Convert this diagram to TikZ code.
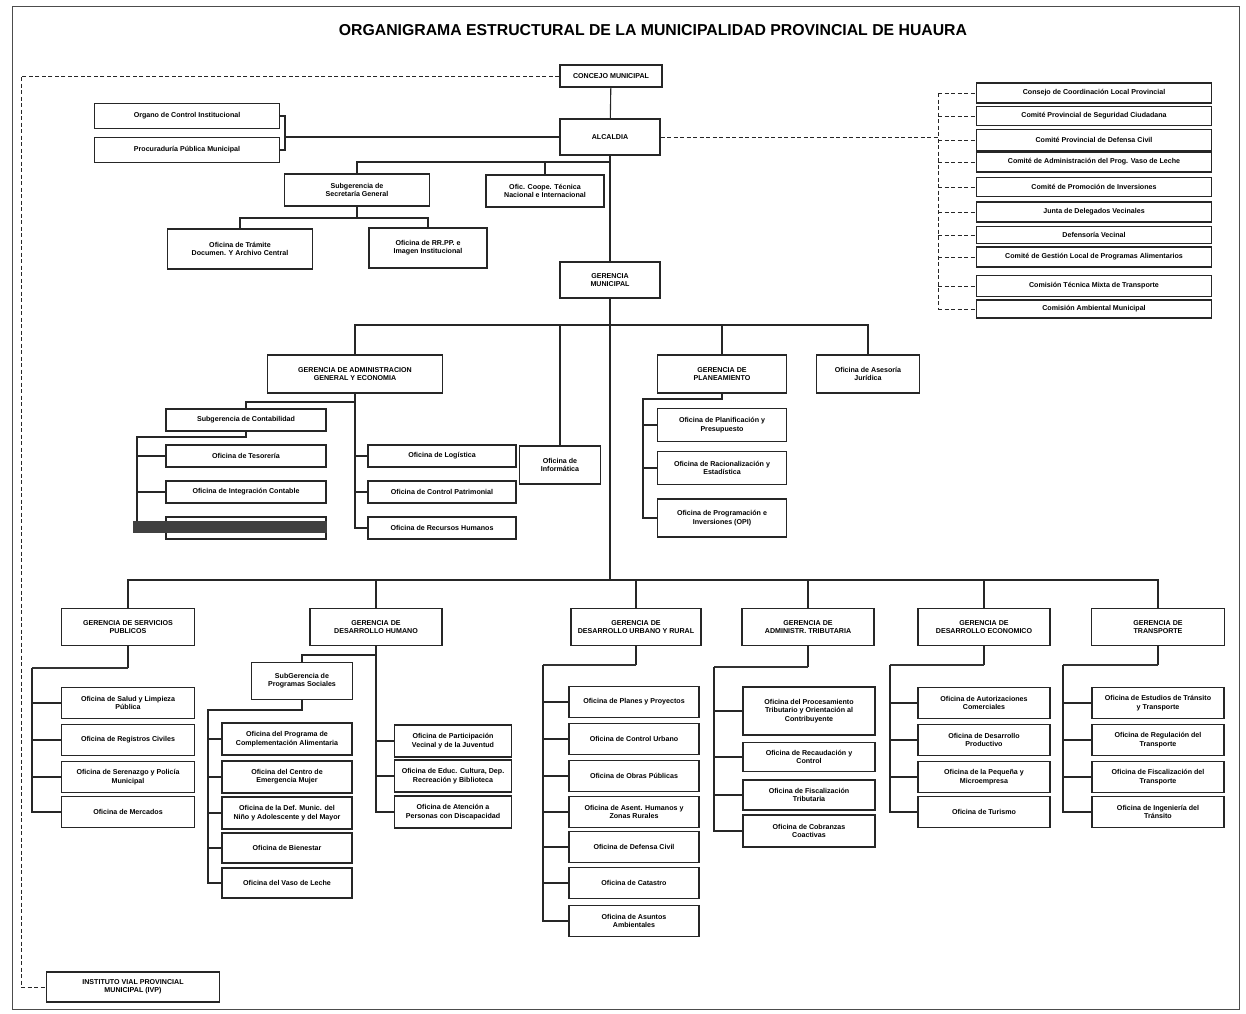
\documentclass[tikz,border=0pt]{standalone}
\usepackage{fontspec}
\setmainfont{Liberation Sans}
\begin{document}
\begin{tikzpicture}[x=1pt,y=-1pt,
	caja/.style 2 args={draw=black!85, fill=white, line width=1.1pt, align=center,
		inner sep=1pt, minimum width=#1pt, minimum height=#2pt,
		font=\fontsize{7.1}{8.3}\selectfont\bfseries},
	linea/.style={line width=1.1pt, black!85},
	gruesa/.style={line width=2.8pt, black!80},
	punteada/.style={line width=1pt, dash pattern=on 4pt off 2.5pt, black!85},
	titulo/.style={font=\fontsize{15.8}{18}\selectfont\bfseries},
	marco/.style={line width=1pt, black!70},
	]
	\useasboundingbox (0,0) rectangle (1246,1013);
	\draw[marco] (12,6) rectangle (1239,1009);
	\node[titulo] (tit) at (653,30) {ORGANIGRAMA ESTRUCTURAL DE LA MUNICIPALIDAD PROVINCIAL DE HUAURA};
	
	%% ── alta direccion ─────────────────────────────────────
	\node[caja={102}{22}] (concejo) at (611,76) {CONCEJO MUNICIPAL};
	\node[caja={100}{36}] (alcaldia) at (610,137) {ALCALDIA};
	\node[caja={185}{25}] (oci) at (187,116) {Organo de Control Institucional};
	\node[caja={185}{25}] (ppm) at (187,150) {Procuraduría Pública Municipal};
	\node[caja={145}{32}] (sgen) at (357,190) {Subgerencia de\\Secretaría General};
	\node[caja={118}{32}] (coope) at (545,191) {Ofic. Coope. Técnica\\Nacional e Internacional};
	\node[caja={145}{40}] (tram) at (240,249) {Oficina de Trámite\\Documen. Y Archivo Central};
	\node[caja={118}{40}] (rrpp) at (428,248) {Oficina de RR.PP. e\\Imagen Institucional};
	\node[caja={100}{36}] (gm) at (610,280) {GERENCIA\\MUNICIPAL};
	\node[caja={173}{30}] (ivp) at (133,987) {INSTITUTO VIAL PROVINCIAL\\MUNICIPAL (IVP)};
	\coordinate (bal) at (285,137);
	\coordinate (h1) at (610,162);
	\coordinate (h2) at (357,218);
	\coordinate (dl) at (21,80);
	\draw[linea] (concejo) -- (alcaldia);
	\draw[linea] (alcaldia.west) -- (bal);
	\draw[linea] (oci.east) -| (bal) |- (ppm.east);
	\draw[linea] (alcaldia.south) -- (gm.north);
	\draw[linea] (sgen.north) |- (h1);
	\draw[linea] (coope.north) -- (coope.north |- h1);
	\draw[linea] (sgen.south) -- (h2);
	\draw[linea] (tram.north) |- (h2) -| (rrpp.north);
	\draw[punteada] (concejo.west) -| (dl |- ivp.west) -- (ivp.west);
	
	%% ── comites ────────────────────────────────────────────
	\foreach \t/\y/\h [count=\i] in {
		{Consejo de Coordinación Local Provincial}/93/20,
		{Comité Provincial de Seguridad Ciudadana}/116/19,
		{Comité Provincial de Defensa Civil}/140/21,
		{Comité de Administración del Prog. Vaso de Leche}/162/20,
		{Comité de Promoción de Inversiones}/187/19,
		{Junta de Delegados Vecinales}/212/20,
		{Defensoría Vecinal}/235/17,
		{Comité de Gestión Local de Programas Alimentarios}/257/20,
		{Comisión Técnica Mixta de Transporte}/286/21,
		{Comisión Ambiental Municipal}/309/18}
	\node[caja={235}{\h}] (com\i) at (1094,\y) {\t};
	\coordinate (dc) at (938,137);
	\draw[punteada] (alcaldia.east) -- (dc);
	\draw[punteada] (dc |- com1.west) -- (dc |- com10.west);
	\foreach \i in {1,...,10} \draw[punteada] (dc |- com\i.west) -- (com\i.west);
	
	%% ── gerencias de apoyo ─────────────────────────────────
	\node[caja={175}{38}] (gadm) at (355,374) {GERENCIA DE ADMINISTRACION\\GENERAL Y ECONOMIA};
	\node[caja={81}{38}] (info) at (560,465) {Oficina de\\Informática};
	\node[caja={129}{38}] (gpla) at (722,374) {GERENCIA DE\\PLANEAMIENTO};
	\node[caja={103}{38}] (ases) at (868,374) {Oficina de Asesoría\\Jurídica};
	\coordinate (h3) at (610,325);
	\draw[linea] (gadm.north) |- (h3) -| (ases.north);
	\draw[linea] (info.north) -- (info.north |- h3);
	\draw[linea] (gpla.north) -- (gpla.north |- h3);
	
	\node[caja={160}{22}] (cont) at (246,420) {Subgerencia de Contabilidad};
	\foreach \t/\y [count=\i] in {{Oficina de Tesorería}/456,{Oficina de Integración Contable}/492,{}/528}
	\node[caja={160}{22}] (ca\i) at (246,\y) {\t};
	\foreach \t/\y [count=\i] in {{Oficina de Logística}/456,{Oficina de Control Patrimonial}/492,{Oficina de Recursos Humanos}/528}
	\node[caja={148}{22}] (ad\i) at (442,\y) {\t};
	\coordinate (ha) at (355,402);
	\coordinate (hb) at (137,437);
	\draw[linea] (gadm.south) -- (gadm.south |- ad3.west) -- (ad3.west);
	\foreach \i in {1,2} \draw[linea] (gadm.south |- ad\i.west) -- (ad\i.west);
	\draw[linea] (ha) -| (cont.north);
	\draw[linea] (cont.south) |- (hb) -- (hb |- ca3.west) -- (ca3.west);
	\foreach \i in {1,2} \draw[linea] (hb |- ca\i.west) -- (ca\i.west);
	\fill[black!75] (133,521) rectangle (327,533);
	
	\foreach \t/\y/\h [count=\i] in {
		{Oficina de Planificación y\\Presupuesto}/425/33,
		{Oficina de Racionalización y\\Estadística}/468/33,
		{Oficina de Programación e\\Inversiones (OPI)}/518/38}
	\node[caja={129}{\h}] (pl\i) at (722,\y) {\t};
	\coordinate (hp) at (643,399);
	\draw[linea] (gpla.south) |- (hp) -- (hp |- pl3.west) -- (pl3.west);
	\foreach \i in {1,2} \draw[linea] (hp |- pl\i.west) -- (pl\i.west);
	
	%% ── gerencias de linea ─────────────────────────────────
	\node[caja={133}{37}] (gsp) at (128,627) {GERENCIA DE SERVICIOS\\PUBLICOS};
	\node[caja={132}{37}] (gdh) at (376,627) {GERENCIA DE\\DESARROLLO HUMANO};
	\node[caja={130}{37}] (gdu) at (636,627) {GERENCIA DE\\DESARROLLO URBANO Y RURAL};
	\node[caja={132}{37}] (gat) at (808,627) {GERENCIA DE\\ADMINISTR. TRIBUTARIA};
	\node[caja={132}{37}] (gde) at (984,627) {GERENCIA DE\\DESARROLLO ECONOMICO};
	\node[caja={133}{37}] (gtr) at (1158,627) {GERENCIA DE\\TRANSPORTE};
	\coordinate (h4) at (610,580);
	\draw[linea] (gm.south) -- (h4);
	\draw[linea] (gsp.north) |- (h4) -| (gtr.north);
	\foreach \g in {gdh,gdu,gat,gde} \draw[linea] (\g.north) -- (\g.north |- h4);
	
	%% servicios publicos
	\foreach \t/\y [count=\i] in {
		{Oficina de Salud y Limpieza\\Pública}/703,
		{Oficina de Registros Civiles}/740,
		{Oficina de Serenazgo y Policía\\Municipal}/777,
		{Oficina de Mercados}/812}
	\node[caja={133}{31}] (sp\i) at (128,\y) {\t};
	\coordinate (bsp) at (32,668);
	\draw[linea] (gsp.south) -- (gsp.south |- bsp);
	\draw[gruesa] (gsp.south |- bsp) -- (bsp);
	\draw[linea] (bsp) -- (bsp |- sp4.west) -- (sp4.west);
	\foreach \i in {1,2,3} \draw[linea] (bsp |- sp\i.west) -- (sp\i.west);
	
	%% desarrollo humano
	\node[caja={101}{37}] (sps) at (302,681) {SubGerencia de\\Programas Sociales};
	\foreach \t/\y [count=\i] in {
		{Oficina de Participación\\Vecinal y de la Juventud}/741,
		{Oficina de Educ. Cultura, Dep.\\Recreación y Biblioteca}/776,
		{Oficina de Atención a\\Personas con Discapacidad}/812}
	\node[caja={117}{32}] (dr\i) at (453,\y) {\t};
	\foreach \t/\y/\h [count=\i] in {
		{Oficina del Programa de\\Complementación Alimentaria}/739/32,
		{Oficina del Centro de\\Emergencia Mujer}/777/32,
		{Oficina de la Def. Munic. del\\Niño y Adolescente y del Mayor}/813/32,
		{Oficina de Bienestar}/848/30,
		{Oficina del Vaso de Leche}/883/30}
	\node[caja={130}{\h}] (dl\i) at (287,\y) {\t};
	\coordinate (hdh) at (376,655);
	\coordinate (bdl) at (208,710);
	\draw[linea] (gdh.south) -- (gdh.south |- dr3.west) -- (dr3.west);
	\foreach \i in {1,2} \draw[linea] (gdh.south |- dr\i.west) -- (dr\i.west);
	\draw[linea] (hdh) -| (sps.north);
	\draw[linea] (sps.south) |- (bdl) -- (bdl |- dl5.west) -- (dl5.west);
	\foreach \i in {1,...,4} \draw[linea] (bdl |- dl\i.west) -- (dl\i.west);
	
	%% desarrollo urbano y rural
	\foreach \t/\y [count=\i] in {
		{Oficina de Planes y Proyectos}/702,
		{Oficina de Control Urbano}/739,
		{Oficina de Obras Públicas}/776,
		{Oficina de Asent. Humanos y\\Zonas Rurales}/812,
		{Oficina de Defensa Civil}/847,
		{Oficina de Catastro}/883,
		{Oficina de Asuntos\\Ambientales}/921}
	\node[caja={130}{31}] (du\i) at (634,\y) {\t};
	\coordinate (bdu) at (543,665);
	\draw[linea] (gdu.south) -- (gdu.south |- bdu);
	\draw[gruesa] (gdu.south |- bdu) -- (bdu);
	\draw[linea] (bdu) -- (bdu |- du7.west) -- (du7.west);
	\foreach \i in {1,...,6} \draw[linea] (bdu |- du\i.west) -- (du\i.west);
	
	%% administracion tributaria
	\foreach \t/\y/\h [count=\i] in {
		{Oficina del Procesamiento\\Tributario y Orientación al\\Contribuyente}/711/48,
		{Oficina de Recaudación y\\Control}/757/29,
		{Oficina de Fiscalización\\Tributaria}/795/30,
		{Oficina de Cobranzas\\Coactivas}/831/32}
	\node[caja={132}{\h}] (at\i) at (809,\y) {\t};
	\coordinate (bat) at (714,667);
	\draw[linea] (gat.south) -- (gat.south |- bat);
	\draw[gruesa] (gat.south |- bat) -- (bat);
	\draw[linea] (bat) -- (bat |- at4.west) -- (at4.west);
	\foreach \i in {1,2,3} \draw[linea] (bat |- at\i.west) -- (at\i.west);
	
	%% desarrollo economico
	\foreach \t/\y [count=\i] in {
		{Oficina de Autorizaciones\\Comerciales}/703,
		{Oficina de Desarrollo\\Productivo}/740,
		{Oficina de la Pequeña y\\Microempresa}/777,
		{Oficina de Turismo}/812}
	\node[caja={132}{31}] (de\i) at (984,\y) {\t};
	\coordinate (bde) at (890,665);
	\draw[linea] (gde.south) -- (gde.south |- bde);
	\draw[gruesa] (gde.south |- bde) -- (bde);
	\draw[linea] (bde) -- (bde |- de4.west) -- (de4.west);
	\foreach \i in {1,2,3} \draw[linea] (bde |- de\i.west) -- (de\i.west);
	
	%% transporte
	\foreach \t/\y [count=\i] in {
		{Oficina de Estudios de Tránsito\\y Transporte}/703,
		{Oficina de Regulación del\\Transporte}/740,
		{Oficina de Fiscalización del\\Transporte}/777,
		{Oficina de Ingeniería del\\Tránsito}/812}
	\node[caja={132}{31}] (tr\i) at (1158,\y) {\t};
	\coordinate (btr) at (1063,665);
	\draw[linea] (gtr.south) -- (gtr.south |- btr);
	\draw[gruesa] (gtr.south |- btr) -- (btr);
	\draw[linea] (btr) -- (btr |- tr4.west) -- (tr4.west);
	\foreach \i in {1,2,3} \draw[linea] (btr |- tr\i.west) -- (tr\i.west);
	
\end{tikzpicture}
\end{document}
